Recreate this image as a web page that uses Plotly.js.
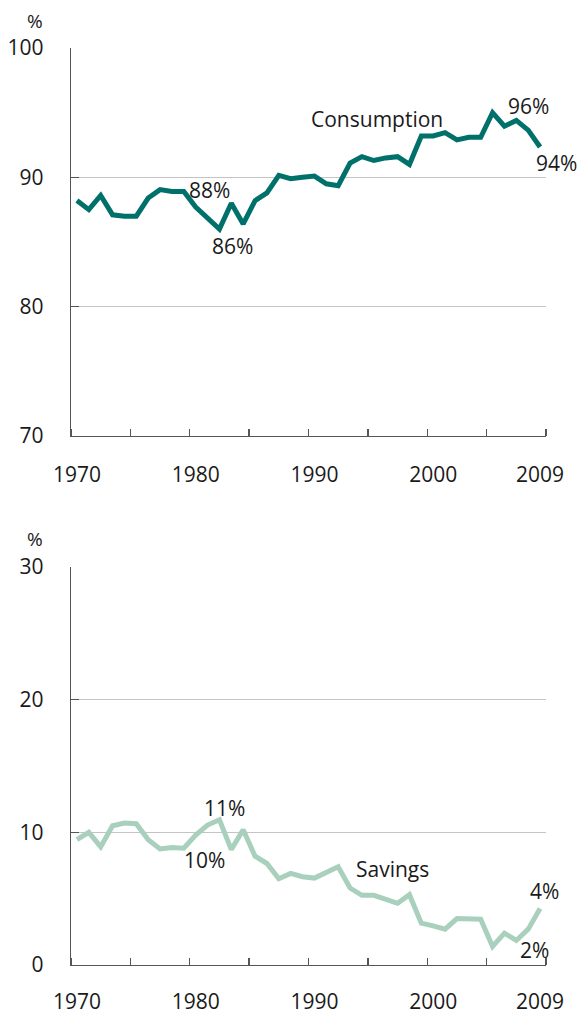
<!DOCTYPE html>
<html>
<head>
<meta charset="utf-8">
<script src="https://cdn.plot.ly/plotly-3.0.1.min.js"></script>
<style>html,body{margin:0;padding:0;background:#fff;}#chart{width:579px;height:1013px;}</style>
</head>
<body>
<div id="chart"></div>
<script>
const years = [];
for (let y = 1970; y <= 2009; y++) years.push(y);

const consumption = [88.2, 87.5, 88.6, 87.1, 87.0, 87.0, 88.4, 89.05, 88.9, 88.9,
  87.7, 86.9, 86.0, 88.0, 86.4, 88.2, 88.8, 90.15, 89.9, 90.0,
  90.1, 89.5, 89.35, 91.1, 91.6, 91.3, 91.5, 91.6, 91.0, 93.2,
  93.2, 93.45, 92.9, 93.1, 93.1, 95.0, 93.95, 94.4, 93.65, 92.35];

const savings = [9.45, 10.0, 8.9, 10.5, 10.7, 10.65, 9.45, 8.75, 8.85, 8.8,
  9.8, 10.55, 10.95, 8.7, 10.2, 8.2, 7.65, 6.5, 6.9, 6.65,
  6.55, 7.0, 7.4, 5.8, 5.25, 5.25, 4.95, 4.65, 5.3, 3.15,
  2.95, 2.7, 3.5, 3.5, 3.45, 1.4, 2.4, 1.85, 2.7, 4.25];

const yearLabels = [1970, 1980, 1990, 2000, 2009];
const yearTicks = [1969.5, 1974.5, 1979.5, 1984.5, 1989.5, 1994.5, 1999.5, 2004.5, 2009.5];
const consTicks = [70, 80, 90, 100];
const savTicks = [0, 10, 20, 30];

const FONT = 'Open Sans, sans-serif';
const TXT = '#1a1a1a';
const CONS_COLOR = '#00706a';
const SAV_COLOR = '#a9d0bd';

const W = 579, H = 1013;
const xDom = [71 / W, 546 / W];
const topDom = [1 - 436 / H, 1 - 48 / H];
const botDom = [1 - 965 / H, 1 - 567 / H];

function xAxis(anchor, standoff) {
  return {
    domain: xDom, anchor: anchor, range: [1969.5, 2009.5],
    tickmode: 'array', tickvals: yearLabels, ticktext: yearLabels.map(String),
    ticks: '', showgrid: false, zeroline: false,
    showline: true, linecolor: '#555', linewidth: 1.3,
    ticklabelstandoff: standoff,
    tickfont: {family: FONT, size: 21, color: TXT},
    minor: {tickmode: 'array', tickvals: yearTicks, ticks: 'inside', ticklen: 7, tickcolor: '#555', tickwidth: 1.3, showgrid: false},
    fixedrange: true
  };
}
function yAxis(dom, anchor, range, vals) {
  return {
    domain: dom, anchor: anchor, range: range,
    tickmode: 'array', tickvals: vals,
    ticks: 'inside', ticklen: 8, tickcolor: '#555', tickwidth: 1.3,
    showgrid: true, gridcolor: '#c4c4c4', gridwidth: 1.3,
    zeroline: false, showline: true, linecolor: '#555', linewidth: 1.3,
    ticklabelstandoff: 22,
    tickfont: {family: FONT, size: 21, color: TXT},
    fixedrange: true
  };
}

const traces = [
  {x: years, y: consumption, type: 'scatter', mode: 'lines', xaxis: 'x', yaxis: 'y',
   line: {color: CONS_COLOR, width: 5, shape: 'linear'}, hoverinfo: 'skip', cliponaxis: false},
  {x: years, y: savings, type: 'scatter', mode: 'lines', xaxis: 'x2', yaxis: 'y2',
   line: {color: SAV_COLOR, width: 5, shape: 'linear'}, hoverinfo: 'skip', cliponaxis: false}
];

function ann(x, y, text, xref, yref, xanchor, xshift, size) {
  return {x: x, y: y, xref: xref, yref: yref, text: text, showarrow: false,
    font: {family: FONT, size: size || 21, color: TXT}, xanchor: xanchor || 'center', yanchor: 'middle',
    xshift: xshift || 0};
}

const annotations = [
  ann(1995.3, 94.5, 'Consumption', 'x', 'y'),
  ann(2008.0, 95.55, '96%', 'x', 'y'),
  ann(2009.5, 91.1, '94%', 'x', 'y', 'left', -12),
  ann(1981.2, 89.0, '88%', 'x', 'y'),
  ann(1983.1, 84.7, '86%', 'x', 'y'),
  ann(1982.4, 11.85, '11%', 'x2', 'y2'),
  ann(1980.7, 7.9, '10%', 'x2', 'y2'),
  ann(1996.6, 7.2, 'Savings', 'x2', 'y2'),
  ann(2009.4, 5.55, '4%', 'x2', 'y2'),
  ann(2008.5, 1.1, '2%', 'x2', 'y2'),
  ann(35 / W, 1 - 21 / H, '%', 'paper', 'paper', 'center', 0, 19),
  ann(35 / W, 1 - 539 / H, '%', 'paper', 'paper', 'center', 0, 19)
];

const layout = {
  width: W, height: H,
  margin: {l: 0, r: 0, t: 0, b: 0, pad: 0},
  paper_bgcolor: '#ffffff', plot_bgcolor: '#ffffff',
  showlegend: false,
  font: {family: FONT, size: 21, color: TXT},
  xaxis: xAxis('y', 19),
  yaxis: yAxis(topDom, 'x', [70, 100], consTicks),
  xaxis2: xAxis('y2', 17),
  yaxis2: yAxis(botDom, 'x2', [0, 30], savTicks),
  annotations: annotations
};

Plotly.newPlot('chart', traces, layout, {staticPlot: true, displayModeBar: false});
</script>
</body>
</html>
